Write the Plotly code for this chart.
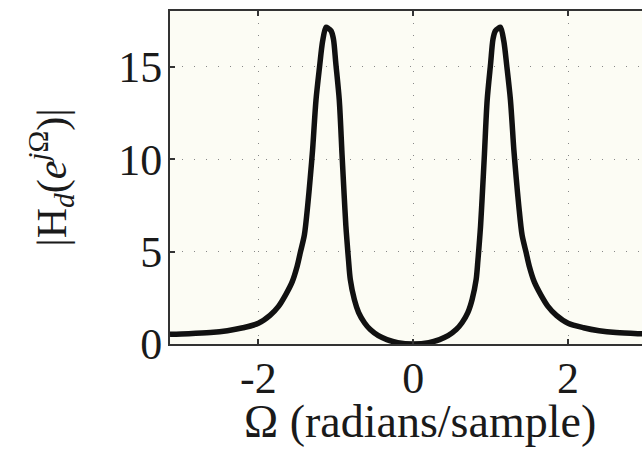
import plotly.graph_objects as go

# Frequency (radians/sample) and magnitude values
omega = [-3.1416, -2.9, -2.62, -2.4, -2.2, -2.0, -1.85, -1.74, -1.65, -1.565,
         -1.5, -1.458, -1.406, -1.363, -1.33, -1.30, -1.256, -1.21, -1.17, -1.127,
         -1.10, -1.06, -1.03, -1.0, -0.955, -0.92, -0.89, -0.87, -0.856, -0.835,
         -0.813, -0.76, -0.705, -0.63, -0.555, -0.45, -0.34, -0.2, 0.0,
         0.2, 0.34, 0.45, 0.555, 0.63, 0.705, 0.76, 0.813, 0.835, 0.856,
         0.87, 0.89, 0.92, 0.955, 1.0, 1.03, 1.06, 1.10, 1.127, 1.17,
         1.21, 1.256, 1.30, 1.33, 1.363, 1.406, 1.458, 1.5, 1.565, 1.65,
         1.74, 1.85, 2.0, 2.2, 2.4, 2.62, 2.9, 3.1416]
magnitude = [0.53, 0.56, 0.62, 0.72, 0.88, 1.12, 1.55, 2.04, 2.65, 3.35,
             4.2, 4.96, 5.9, 7.5, 9.0, 10.5, 13.2, 15.0, 16.4, 17.15,
             17.1, 16.95, 16.5, 15.2, 13.2, 10.3, 7.9, 6.4, 5.6, 4.5,
             3.5, 2.4, 1.7, 1.15, 0.78, 0.45, 0.24, 0.07, 0.0,
             0.07, 0.24, 0.45, 0.78, 1.15, 1.7, 2.4, 3.5, 4.5, 5.6,
             6.4, 7.9, 10.3, 13.2, 15.2, 16.5, 16.95, 17.1, 17.15, 16.4,
             15.0, 13.2, 10.5, 9.0, 7.5, 5.9, 4.96, 4.2, 3.35, 2.65,
             2.04, 1.55, 1.12, 0.88, 0.72, 0.62, 0.56, 0.53]

x_tickvals = [-2, 0, 2]
x_ticktext = ["-2", "0", "2"]
y_tickvals = [0, 5, 10, 15]
y_ticktext = ["0", "5", "10", "15"]
x_title = "Ω (radians/sample)"
y_title = "|H<sub><i>d</i></sub>(<i>e</i><sup><i>j</i>Ω</sup>)|"

FONT = "Liberation Serif, Times New Roman, serif"

fig = go.Figure()
fig.add_trace(go.Scatter(
    x=omega, y=magnitude, mode="lines",
    line=dict(color="#111111", width=5.5, shape="spline", smoothing=0.8),
    hoverinfo="skip", showlegend=False,
))

axis_common = dict(
    showline=True, linecolor="#333333", linewidth=2,
    ticks="inside", ticklen=5, tickcolor="#333333", tickwidth=1.5,
    showgrid=True, gridcolor="#888888", gridwidth=1.2, griddash="1px,11px",
    zeroline=False, automargin=False,
    tickfont=dict(family=FONT, size=44, color="#1a1a1a"),
)

fig.update_layout(
    width=642, height=450,
    margin=dict(l=170, r=0, t=11, b=105.5),
    paper_bgcolor="white",
    plot_bgcolor="#FCFCF4",
    font=dict(family=FONT, color="#1a1a1a"),
    xaxis=dict(
        range=[-3.1416, 2.955], tickvals=x_tickvals, ticktext=x_ticktext,
        mirror="ticks", ticklabelstandoff=-6,
        **axis_common,
    ),
    yaxis=dict(
        range=[0, 18.03], tickvals=y_tickvals, ticktext=y_ticktext,
        mirror=False, ticklabelstandoff=-3,
        title=dict(text=y_title, font=dict(family=FONT, size=42), standoff=39),
        **axis_common,
    ),
)

fig.add_annotation(
    text=x_title, xref="x", yref="paper", x=0.09, y=0,
    xanchor="center", yanchor="top", yshift=-50, showarrow=False,
    font=dict(family=FONT, size=46, color="#1a1a1a"),
)

# remove the page's default body margin so the figure fills the window exactly
fig.write_html(
    "out.html",
    config={"displayModeBar": False},
    post_script="document.body.style.margin='0';document.body.style.overflow='hidden';",
)
